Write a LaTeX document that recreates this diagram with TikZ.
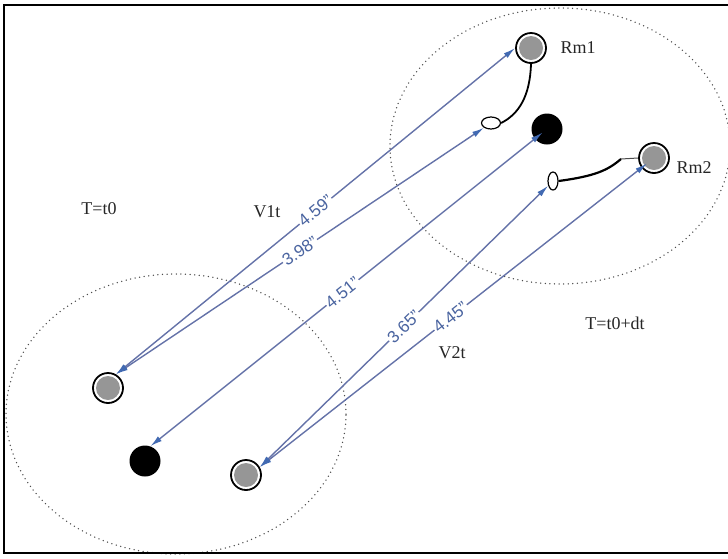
\documentclass[tikz,border=0pt]{standalone}
\usepackage{fontspec}
\setmainfont{Liberation Serif}
\setsansfont{Liberation Sans}
\usetikzlibrary{shapes.geometric, arrows.meta}
\definecolor{linkblue}{RGB}{100,114,168}
\definecolor{tipblue}{RGB}{66,106,178}
\definecolor{labelblue}{RGB}{74,100,160}
\definecolor{bodygray}{RGB}{150,150,150}

\begin{document}
\begin{tikzpicture}[x=1pt, y=-1pt,
    graydot/.style={circle, draw=black, line width=1.8pt, fill=white, minimum size=30pt, inner sep=0pt,
      path picture={\fill[bodygray] (path picture bounding box.center) circle (12pt);}},
    blackdot/.style={circle, fill=black, minimum size=31pt, inner sep=0pt},
    hole/.style={ellipse, draw=black, line width=1.2pt, fill=white, inner sep=0pt},
    link/.style={linkblue, line width=1.4pt, {Latex[length=12pt, width=6pt, color=tipblue]}-{Latex[length=12pt, width=6pt, color=tipblue]}},
    dist/.style={midway, sloped, fill=white, inner sep=1pt, text=labelblue, font=\sffamily\fontsize{17}{17}\selectfont},
    zone/.style={draw=black!70, line width=1.5pt, line cap=round, dash pattern=on 0pt off 4.6pt},
    tag/.style={text=black!85, font=\fontsize{18}{18}\selectfont}]
    \useasboundingbox (0,0) rectangle (728,558);

    % search zones at both instants
    \draw[zone] (560,146) ellipse [x radius=170pt, y radius=138pt];
    \draw[zone] (176,414) ellipse [x radius=170pt, y radius=140pt];

    % positions at T=t0+dt
    \node[graydot] (rm1) at (531,48) {};
    \node[hole, minimum width=19pt, minimum height=12pt] (h1) at (491,123) {};
    \node[blackdot] (c1) at (547,129) {};
    \node[graydot] (rm2) at (654,158) {};
    \node[hole, minimum width=10pt, minimum height=18pt] (h2) at (553,181) {};

    % positions at T=t0
    \node[graydot] (r1) at (108,388) {};
    \node[blackdot] (c0) at (145,461) {};
    \node[graydot] (r2) at (246,475) {};

    \draw[line width=1.8pt] (rm1.south) .. controls (530,96) and (519,114) .. (h1.east);
    \draw[line width=2.2pt] (h2.east) .. controls (596,176) and (608,170) .. (621,159);
    \draw[line width=1pt, black!70] (621,159) -- (rm2.west);

    \draw[link] (r1.60) -- (rm1.west) node[dist] {4.59"};
    \draw[link] (r1.60) -- (h1) node[dist] {3.98"};
    \draw[link, shorten >=-10pt] (c0.70) -- (c1) node[dist] {4.51"};
    \draw[link] (r2.30) -- (h2) node[dist] {3.65"};
    \draw[link, shorten >=-7pt] (r2.30) -- (rm2) node[dist] {4.45"};

    \node[tag] (lrm1) at (578,48) {Rm1};
    \node[tag] (lrm2) at (694,168) {Rm2};
    \node[tag] (tnow) at (99,209) {T=t0};
    \node[tag] (v1) at (267,212) {V1t};
    \node[tag] (tnext) at (615,323) {T=t0+dt};
    \node[tag] (v2) at (452,353) {V2t};

    \draw[line width=1.4pt] (728,5) -- (4,5) -- (4,553) -- (728,553);
\end{tikzpicture}
\end{document}
